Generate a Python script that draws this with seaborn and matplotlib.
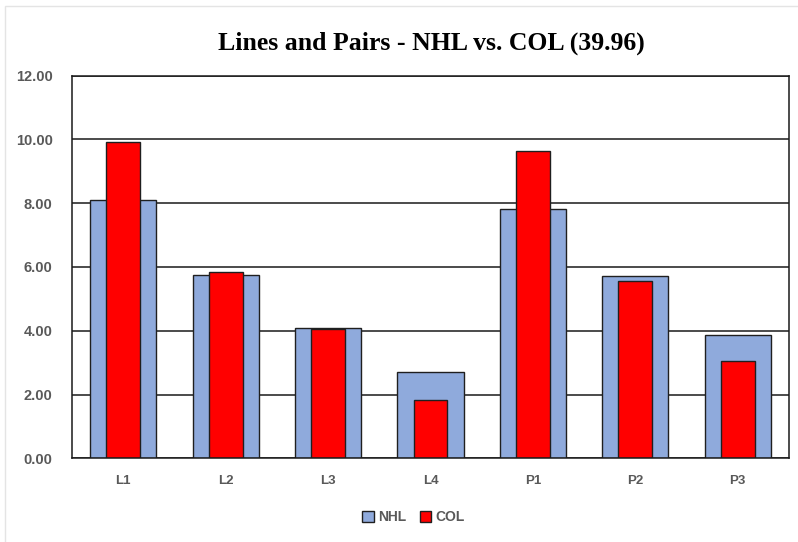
import matplotlib
matplotlib.use("Agg")
import matplotlib.pyplot as plt
import seaborn as sns
import pandas as pd
from matplotlib.patches import Patch, Rectangle

categories = ["L1", "L2", "L3", "L4", "P1", "P2", "P3"]
nhl = [8.10, 5.75, 4.08, 2.71, 7.81, 5.71, 3.87]
col = [9.93, 5.84, 4.06, 1.83, 9.64, 5.57, 3.04]
title = "Lines and Pairs - NHL vs. COL (39.96)"

sns.set_theme(style="white")
plt.rcParams["font.family"] = ["Liberation Sans", "DejaVu Sans"]

df = pd.DataFrame({"cat": categories, "NHL": nhl, "COL": col})

fig = plt.figure(figsize=(7.98, 5.42), dpi=100)
fig.patch.set_facecolor("white")

# faint outer chart-area border
fig.patches.append(Rectangle((5 / 798, -0.05), 1.2, 1.05 - 6 / 542 + 0.0,
                             transform=fig.transFigure, facecolor="none",
                             edgecolor="#e4e4e4", linewidth=1.0, zorder=0))

ax = fig.add_axes([0.0902, 0.1544, 0.8985, 0.7063])

ax.set_axisbelow(True)
ax.yaxis.grid(True, color="#1a1a1a", linewidth=1.1)

sns.barplot(data=df, x="cat", y="NHL", color="#8FAADC", width=0.645,
            edgecolor="#1f1f1f", linewidth=1.0, saturation=1, ax=ax)
sns.barplot(data=df, x="cat", y="COL", color="#FF0000", width=0.33,
            edgecolor="#1f1f1f", linewidth=1.0, saturation=1, ax=ax)

ax.set_ylim(0, 12)
ax.set_xlim(-0.5, 6.5)
ax.set_yticks([0, 2, 4, 6, 8, 10, 12])
ax.set_yticklabels([f"{v:.2f}" for v in [0, 2, 4, 6, 8, 10, 12]])
ax.set_xlabel("")
ax.set_ylabel("")
ax.tick_params(axis="y", length=0, pad=14, labelsize=10.5, labelcolor="#595959")
ax.tick_params(axis="x", length=0, pad=12, labelsize=9.5, labelcolor="#595959")
for lab in ax.get_xticklabels() + ax.get_yticklabels():
    lab.set_fontweight("bold")
for s in ax.spines.values():
    s.set_visible(True)
    s.set_color("#1a1a1a")
    s.set_linewidth(1.1)

fig.text(0.54, 0.921, title, ha="center", va="center", fontsize=18.5,
         fontweight="bold", family=["Liberation Serif", "DejaVu Serif"], color="black")

handles = [Patch(facecolor="#8FAADC", edgecolor="#1f1f1f", label="NHL"),
           Patch(facecolor="#FF0000", edgecolor="#1f1f1f", label="COL")]
leg = fig.legend(handles=handles, loc="center", bbox_to_anchor=(0.518, 0.046), ncol=2,
                 frameon=False, handlelength=0.8, handleheight=0.8, handletextpad=0.3,
                 columnspacing=1.0, prop={"weight": "bold", "size": 10})
for t in leg.get_texts():
    t.set_color("#595959")

fig.savefig("out.png", dpi=100, facecolor="white")
